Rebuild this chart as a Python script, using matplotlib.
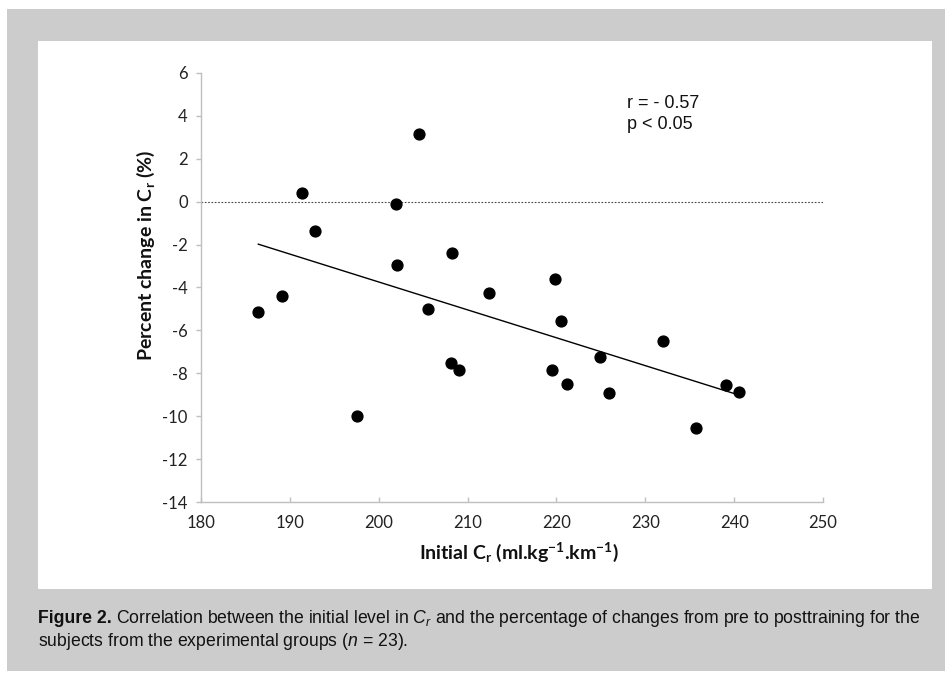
import matplotlib
matplotlib.use("Agg")
import matplotlib.pyplot as plt
from matplotlib.patches import Rectangle
import numpy as np

# ---- data ----
initial_cr = [186.45, 189.07, 191.4, 192.82, 197.6, 201.97, 202.1, 204.56, 205.57,
              208.1, 208.27, 209.0, 212.4, 219.5, 219.86, 220.5, 221.2, 224.9,
              225.9, 232.0, 235.7, 239.1, 240.6]
pct_change = [-5.16, -4.40, 0.41, -1.35, -10.0, -0.12, -2.97, 3.16, -4.99,
              -7.52, -2.39, -7.83, -4.26, -7.86, -3.60, -5.56, -8.51, -7.24,
              -8.92, -6.48, -10.54, -8.55, -8.87]
x_ticks = [180, 190, 200, 210, 220, 230, 240, 250]
y_ticks = [-14, -12, -10, -8, -6, -4, -2, 0, 2, 4, 6]
stats_lines = ["r = - 0.57", "p < 0.05"]

plt.rcParams['mathtext.fontset'] = 'custom'
plt.rcParams['mathtext.bf'] = 'Lato:bold'
plt.rcParams['mathtext.rm'] = 'Lato:bold'
plt.rcParams['mathtext.it'] = 'Liberation Sans:italic'

W, H = 952, 673
fig = plt.figure(figsize=(W / 100, H / 100), dpi=100)
fig.patch.set_facecolor('white')

def px_rect(x0, y0, x1, y1, color, z):
    r = Rectangle((x0 / W, 1 - y1 / H), (x1 - x0) / W, (y1 - y0) / H,
                  transform=fig.transFigure, facecolor=color, edgecolor='none', zorder=z)
    fig.patches.append(r)

px_rect(7, 9, 945, 671, '#cccccc', -3)
px_rect(38, 41, 932, 589, 'white', -2)

ax_l, ax_r, ax_t, ax_b = 201, 823, 72.7, 502.3
ax = fig.add_axes([ax_l / W, 1 - ax_b / H, (ax_r - ax_l) / W, (ax_b - ax_t) / H])
ax.set_facecolor('none')

x = np.array(initial_cr)
y = np.array(pct_change)
ax.plot(x, y, 'o', color='black', ms=7.8, zorder=3, clip_on=False)

slope, intercept = np.polyfit(x, y, 1)
xl = np.array([x.min(), x.max()])
ax.plot(xl, slope * xl + intercept, color='black', lw=1.0, zorder=2)

ax.axhline(0, color='#444444', lw=0.8, linestyle=(0, (1.5, 1.5)), zorder=1)

ax.set_xlim(180, 250)
ax.set_ylim(-14, 6)
ax.set_xticks(x_ticks)
ax.set_yticks(y_ticks)
ax.set_xticklabels([str(v) for v in x_ticks])
ax.set_yticklabels([str(v) for v in y_ticks])

for s in ['top', 'right']:
    ax.spines[s].set_visible(False)
for s in ['left', 'bottom']:
    ax.spines[s].set_color('#bfbfbf')
    ax.spines[s].set_linewidth(1.0)

ax.tick_params(axis='y', direction='out', length=3.5, width=1.0, color='#bfbfbf',
               pad=6, labelsize=12, labelcolor='#222222')
ax.tick_params(axis='x', direction='in', length=3.5, width=1.0, color='#bfbfbf',
               pad=9, labelsize=12, labelcolor='#222222')
for lab in ax.get_xticklabels() + ax.get_yticklabels():
    lab.set_family('Lato')

ax.set_ylabel(r"Percent change in $\mathbf{C}_\mathbf{r}$ (%)", family='Lato',
              fontweight='bold', fontsize=14, color='#111111')
ax.yaxis.set_label_coords(-0.071, 0.576)
ax.set_xlabel(r"Initial $\mathbf{C}_\mathbf{r}$ (ml.kg$^\mathbf{-1}$.km$^\mathbf{-1}$)",
              family='Lato', fontweight='bold', fontsize=14, color='#111111')
ax.xaxis.set_label_coords(0.511, -0.09)

ax.text(227.9, 4.37, stats_lines[0], family='Liberation Sans', fontsize=13,
        color='#111111', va='baseline', ha='left')
ax.text(227.9, 3.39, stats_lines[1], family='Liberation Sans', fontsize=13,
        color='#111111', va='baseline', ha='left')

# caption
fig.canvas.draw()
renderer = fig.canvas.get_renderer()
cap_x = 38 / W
b1 = 1 - 623 / H
b2 = 1 - 646 / H
cap_fs = 12.7
t_bold = fig.text(cap_x, b1, "Figure 2.", family='Liberation Sans', fontweight='bold',
                  fontsize=cap_fs, color='#111111', va='baseline', ha='left')
bb = t_bold.get_window_extent(renderer)
fig.text(bb.x1 / W + 4 / W, b1,
         r"Correlation between the initial level in $\mathit{C_r}$ and the percentage of changes from pre to posttraining for the",
         family='Liberation Sans', fontsize=cap_fs, color='#111111', va='baseline', ha='left')
fig.text(cap_x, b2, r"subjects from the experimental groups ($\mathit{n}$ = 23).",
         family='Liberation Sans', fontsize=cap_fs, color='#111111', va='baseline', ha='left')

fig.savefig("out.png", dpi=100, facecolor=fig.get_facecolor())
